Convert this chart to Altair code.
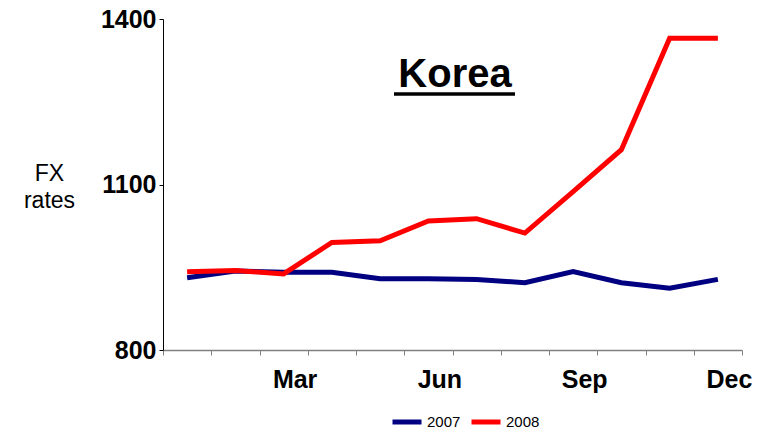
import altair as alt
import pandas as pd

months = ["Jan", "Feb", "Mar", "Apr", "May", "Jun",
          "Jul", "Aug", "Sep", "Oct", "Nov", "Dec"]
fx_2007 = [931, 943, 941, 941, 929, 929, 928, 922, 942, 922, 912, 928]
fx_2008 = [942, 944, 938, 995, 998, 1034, 1038, 1012, 1087, 1163, 1365, 1365]
series_names = ["2007", "2008"]
series_colors = ["#000080", "#FF0000"]
y_ticks = [800, 1100, 1400]
shown_months = ["Mar", "Jun", "Sep", "Dec"]
chart_title = "Korea"

rows = []
for m, a, b in zip(months, fx_2007, fx_2008):
    rows.append({"month": m, "year": "2007", "rate": a})
    rows.append({"month": m, "year": "2008", "rate": b})
df = pd.DataFrame(rows)

FONT = "Liberation Sans"
W, H = 579, 331

label_expr = "indexof(" + str(shown_months).replace("'", '"') + ", datum.value) >= 0 ? datum.value : ''"

lines = alt.Chart(df).mark_line(strokeWidth=5, strokeJoin="miter").encode(
    x=alt.X("month:N", sort=months, bandPosition=0.5,
            scale=alt.Scale(type="band", paddingInner=0, paddingOuter=0),
            axis=alt.Axis(title=None, tickBand="extent", labelExpr=label_expr,
                          labelAngle=0, labelFont=FONT, labelFontSize=25,
                          labelFontWeight="bold", labelColor="black",
                          labelOffset=11, labelPadding=12, labelBaseline="top",
                          domainColor="#808080", domainWidth=1.5,
                          tickColor="#808080", tickSize=5, tickWidth=1)),
    y=alt.Y("rate:Q", scale=alt.Scale(domain=[800, 1400], nice=False, zero=False),
            axis=alt.Axis(values=y_ticks, grid=False, title=["FX", "rates"], format="d",
                          titleAngle=0, titleFont=FONT, titleFontSize=23,
                          titleFontWeight="normal", titleColor="black",
                          titleAlign="center", titleBaseline="top",
                          titleX=-114, titleY=143, titleLineHeight=27,
                          labelFont=FONT, labelFontSize=25, labelFontWeight="bold",
                          labelColor="black", labelPadding=3,
                          domainColor="black", tickColor="black", tickSize=4)),
    color=alt.Color("year:N",
                    scale=alt.Scale(domain=series_names, range=series_colors),
                    legend=alt.Legend(title=None, orient="none", direction="horizontal",
                                      legendX=227, legendY=386, padding=0,
                                      symbolType="stroke", symbolSize=841,
                                      symbolStrokeWidth=5, labelFont=FONT,
                                      labelFontSize=15, labelColor="black",
                                      labelOffset=3, columnPadding=0)),
)

title_df = pd.DataFrame({"t": [chart_title]})
title_text = alt.Chart(title_df).mark_text(
    font=FONT, fontSize=40, fontWeight="bold", color="black",
    align="center", baseline="alphabetic"
).encode(text="t:N", x=alt.value(292), y=alt.value(68))

underline = alt.Chart(title_df).mark_rule(color="black", strokeWidth=3.5).encode(
    x=alt.value(231), x2=alt.value(352), y=alt.value(75)
)

chart = alt.layer(lines, title_text, underline).properties(
    width=W, height=H,
    autosize=alt.AutoSizeParams(type="none"),
    padding={"left": 155, "top": 11, "right": 20, "bottom": 84},
    background="white",
).configure_view(stroke=None)

chart.save("out.html", embed_options={"renderer": "svg", "actions": False})
